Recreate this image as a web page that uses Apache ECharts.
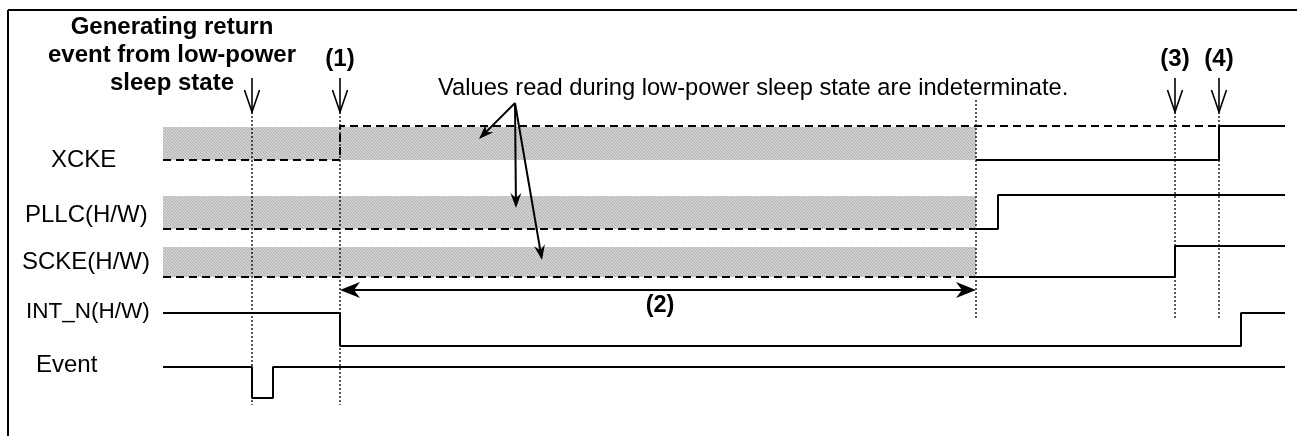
<!DOCTYPE html>
<html><head><meta charset="utf-8">
<script src="https://cdn.jsdelivr.net/npm/echarts@6/dist/echarts.min.js"></script>
<style>html,body{margin:0;padding:0;background:#fff}#c{width:1297px;height:436px}</style>
</head><body><div id="c"></div>
<script>
// ---------- data ----------
const signalNames = ['XCKE', 'PLLC(H/W)', 'SCKE(H/W)', 'INT_N(H/W)', 'Event'];
// waveforms as [time, level] (level 1 = high, 0 = low)
const xckeIndeterminate = [[163, 0], [340, 0], [340, 1], [1219, 1]];
const xckeDefined = [[976, 0], [1219, 0], [1219, 1], [1285, 1]];
const pllcIndeterminate = [[163, 0], [976, 0]];
const pllcDefined = [[976, 0], [998, 0], [998, 1], [1285, 1]];
const sckeIndeterminate = [[163, 0], [976, 0]];
const sckeDefined = [[976, 0], [1175, 0], [1175, 1], [1285, 1]];
const intnWave = [[163, 1], [340, 1], [340, 0], [1241, 0], [1241, 1], [1285, 1]];
const eventWave = [[163, 1], [252, 1], [252, 0], [273, 0], [273, 1], [1285, 1]];
const indeterminateRows = [0, 1, 2];
const indeterminateSpan = [163, 976];
const markerTimes = [252, 340, 976, 1175, 1219];
const markerLabels = ['', '(1)', '', '(3)', '(4)'];
const periodSpan = [340, 976];
const periodLabel = '(2)';
const titleText = 'Generating return\nevent from low-power\nsleep state';
const noteText = 'Values read during low-power sleep state are indeterminate.';

// ---------- layout (positions / sizes / styles) ----------
const rowHigh = [126, 195, 246, 313, 367];
const rowLow = [160, 229, 277, 346, 398];
const labelX = [51, 25, 22, 26, 36];
const labelY = [160, 215, 262, 312, 365];
const labelFont = [24, 24, 24, 22.5, 24];
const markerTop = [112, 112, 100, 112, 112];
const markerBottom = [405, 405, 318, 320, 320];
const markerArrowTop = 78;
const markerLabelY = 59;
const periodY = 290;
const noteOrigin = [515, 103];
const noteTargets = [[479, 139], [516, 208], [542, 260]];
const FONT = '"Liberation Sans", Arial, Helvetica, sans-serif';

function lvl(row, wave) { return wave.map(p => [p[0], p[1] ? rowHigh[row] : rowLow[row]]); }

// hatch pattern
const pc = document.createElement('canvas');
pc.width = 3; pc.height = 3;
const pctx = pc.getContext('2d');
pctx.fillStyle = '#d2d2d2'; pctx.fillRect(0, 0, 3, 3);
pctx.fillStyle = '#b0b0b0';
for (let i = 0; i < 3; i++) pctx.fillRect(i, i, 1, 1);

function lineSeries(data, dashed) {
  return {
    type: 'line', data: data, showSymbol: false, symbol: 'none', silent: true,
    lineStyle: { color: '#000', width: 2, type: dashed ? [8, 5] : 'solid', cap: 'butt' },
    z: 5, animation: false
  };
}

function headPoly(p0, p1, L, W, notch) {
  const dx = p1[0] - p0[0], dy = p1[1] - p0[1];
  const len = Math.hypot(dx, dy);
  const ux = dx / len, uy = dy / len, nx = -uy, ny = ux;
  return [
    [p1[0], p1[1]],
    [p1[0] - L * ux + W * nx, p1[1] - L * uy + W * ny],
    [p1[0] - notch * ux, p1[1] - notch * uy],
    [p1[0] - L * ux - W * nx, p1[1] - L * uy - W * ny]
  ];
}

const chart = echarts.init(document.getElementById('c'), null, { renderer: 'canvas' });

const series = [];
// indeterminate bands
series.push({
  type: 'custom', silent: true, animation: false, z: 1,
  data: indeterminateRows.map(r => [indeterminateSpan[0], indeterminateSpan[1], rowHigh[r] + 1, rowLow[r]]),
  renderItem: function (params, api) {
    const a = api.coord([api.value(0), api.value(2)]);
    const b = api.coord([api.value(1), api.value(3)]);
    return { type: 'rect', shape: { x: a[0], y: a[1], width: b[0] - a[0], height: b[1] - a[1] },
      style: { fill: { image: pc, repeat: 'repeat' } } };
  }
});
// waveforms
series.push(lineSeries(lvl(0, xckeIndeterminate), true));
series.push(lineSeries(lvl(0, xckeDefined), false));
series.push(lineSeries(lvl(1, pllcIndeterminate), true));
series.push(lineSeries(lvl(1, pllcDefined), false));
series.push(lineSeries(lvl(2, sckeIndeterminate), true));
series.push(lineSeries(lvl(2, sckeDefined), false));
series.push(lineSeries(lvl(3, intnWave), false));
series.push(lineSeries(lvl(4, eventWave), false));
// markers
series.push({
  type: 'custom', silent: true, animation: false, z: 3,
  data: markerTimes.map((t, i) => [t, markerTop[i], markerBottom[i], i]),
  renderItem: function (params, api) {
    const i = api.value(3);
    const top = api.coord([api.value(0), api.value(1)]);
    const bot = api.coord([api.value(0), api.value(2)]);
    const children = [{ type: 'line', shape: { x1: top[0], y1: top[1], x2: bot[0], y2: bot[1] },
      style: { stroke: '#000', lineWidth: 1.3, lineDash: [2, 2] } }];
    if (i !== 2) {
      const at = api.coord([api.value(0), markerArrowTop]);
      children.push({ type: 'line', shape: { x1: at[0], y1: at[1], x2: top[0], y2: top[1] },
        style: { stroke: '#000', lineWidth: 1.6 } });
      children.push({ type: 'polyline', shape: { points: [[top[0] - 7.5, top[1] - 22], [top[0], top[1]], [top[0] + 7.5, top[1] - 22]] },
        style: { stroke: '#000', lineWidth: 1.6, fill: null } });
    }
    if (markerLabels[i]) {
      const lp = api.coord([api.value(0), markerLabelY]);
      children.push({ type: 'text', x: lp[0], y: lp[1],
        style: { text: markerLabels[i], font: 'bold 24px ' + FONT, fill: '#000', align: 'center', verticalAlign: 'middle' } });
    }
    return { type: 'group', children: children };
  }
});
// period (2) arrow
series.push({
  type: 'custom', silent: true, animation: false, z: 6,
  data: [[periodSpan[0], periodSpan[1], periodY]],
  renderItem: function (params, api) {
    const a = api.coord([api.value(0), api.value(2)]);
    const b = api.coord([api.value(1), api.value(2)]);
    const lbl = api.coord([(api.value(0) + api.value(1)) / 2 + 2, api.value(2) + 16]);
    return { type: 'group', children: [
      { type: 'line', shape: { x1: a[0] + 10, y1: a[1], x2: b[0] - 10, y2: b[1] }, style: { stroke: '#000', lineWidth: 2 } },
      { type: 'polygon', shape: { points: headPoly(b, a, 20, 8, 14) }, style: { fill: '#000' } },
      { type: 'polygon', shape: { points: headPoly(a, b, 20, 8, 14) }, style: { fill: '#000' } },
      { type: 'text', x: lbl[0], y: lbl[1], style: { text: periodLabel, font: 'bold 23.5px ' + FONT, fill: '#000', align: 'center', verticalAlign: 'middle' } }
    ] };
  }
});
// note arrows
series.push({
  type: 'custom', silent: true, animation: false, z: 7,
  data: noteTargets.map(p => [noteOrigin[0], noteOrigin[1], p[0], p[1]]),
  renderItem: function (params, api) {
    const a = api.coord([api.value(0), api.value(1)]);
    const b = api.coord([api.value(2), api.value(3)]);
    const dx = b[0] - a[0], dy = b[1] - a[1], len = Math.hypot(dx, dy);
    const e = [b[0] - dx / len * 9, b[1] - dy / len * 9];
    return { type: 'group', children: [
      { type: 'line', shape: { x1: a[0], y1: a[1], x2: e[0], y2: e[1] }, style: { stroke: '#000', lineWidth: 2 } },
      { type: 'polygon', shape: { points: headPoly(a, b, 15, 5.5, 10) }, style: { fill: '#000' } }
    ] };
  }
});
// signal labels + texts
series.push({
  type: 'custom', silent: true, animation: false, z: 8,
  data: signalNames.map((n, i) => [labelX[i], labelY[i], i]),
  renderItem: function (params, api) {
    const p = api.coord([api.value(0), api.value(1)]);
    const i = api.value(2);
    return { type: 'text', x: p[0], y: p[1],
      style: { text: signalNames[i], font: labelFont[i] + 'px ' + FONT, fill: '#000', align: 'left', verticalAlign: 'middle' } };
  }
});
series.push({
  type: 'custom', silent: true, animation: false, z: 8,
  data: [[172, 55, 0], [438, 88, 1]],
  renderItem: function (params, api) {
    const p = api.coord([api.value(0), api.value(1)]);
    if (api.value(2) === 0) {
      return { type: 'text', x: p[0], y: p[1],
        style: { text: titleText, font: 'bold 24px ' + FONT, lineHeight: 28, fill: '#000', align: 'center', verticalAlign: 'middle' } };
    }
    return { type: 'text', x: p[0], y: p[1],
      style: { text: noteText, font: '23.7px ' + FONT, fill: '#000', align: 'left', verticalAlign: 'middle' } };
  }
});

chart.setOption({
  animation: false,
  backgroundColor: '#fff',
  grid: { left: 0, right: 0, top: 0, bottom: 0 },
  xAxis: { type: 'value', min: 0, max: 1297, show: false },
  yAxis: { type: 'value', min: 0, max: 436, inverse: true, show: false },
  graphic: [
    { type: 'line', shape: { x1: 8, y1: 10, x2: 1297, y2: 10 }, style: { stroke: '#000', lineWidth: 2 } },
    { type: 'line', shape: { x1: 8, y1: 10, x2: 8, y2: 436 }, style: { stroke: '#000', lineWidth: 2 } }
  ],
  series: series
});
</script>
</body></html>
